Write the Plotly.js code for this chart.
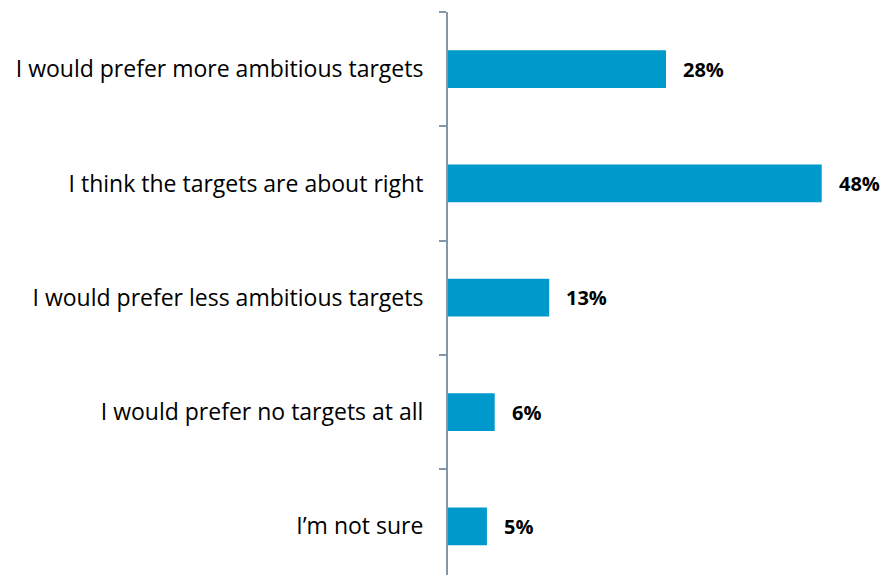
<!DOCTYPE html>
<html>
<head>
<meta charset="utf-8">
<script src="https://cdn.plot.ly/plotly-3.0.1.min.js"></script>
<style>html,body{margin:0;padding:0;background:#fff;}#chart{width:884px;height:575px;}</style>
</head>
<body>
<div id="chart"></div>
<script>
const categories = [
  "I would prefer more ambitious targets",
  "I think the targets are about right",
  "I would prefer less ambitious targets",
  "I would prefer no targets at all",
  "I\u2019m not sure"
];
const values = [28, 48, 13, 6, 5];
const valueLabels = ["28%", "48%", "13%", "6%", "5%"];

const trace = {
  type: "bar",
  orientation: "h",
  x: values,
  y: categories,
  marker: {color: "#0099CC"},
  width: 0.33,
  hoverinfo: "none"
};

const annotations = values.map((v, i) => ({
  x: v, y: categories[i], xref: "x", yref: "y",
  text: valueLabels[i], showarrow: false, xanchor: "left", xshift: 15, yshift: 0,
  font: {family: "Open Sans, sans-serif", size: 20, color: "#000", weight: "bold"}
}));

const layout = {
  width: 884, height: 575,
  margin: {l: 448, r: 0, t: 12, b: 0},
  paper_bgcolor: "#fff", plot_bgcolor: "#fff",
  showlegend: false,
  xaxis: {range: [0, 56], visible: false, fixedrange: true},
  yaxis: {
    type: "category",
    range: [4.426, -0.5],
    showline: true, linecolor: "#8497A8", linewidth: 2,
    ticks: "outside", tickson: "boundaries", ticklen: 7, tickcolor: "#8497A8", tickwidth: 2,
    showgrid: false, zeroline: false,
    ticklabelstandoff: 18,
    tickfont: {family: "Open Sans, sans-serif", size: 23, color: "#000"}
  },
  annotations: annotations
};

Plotly.newPlot("chart", [trace], layout, {displayModeBar: false, staticPlot: true});
</script>
</body>
</html>
